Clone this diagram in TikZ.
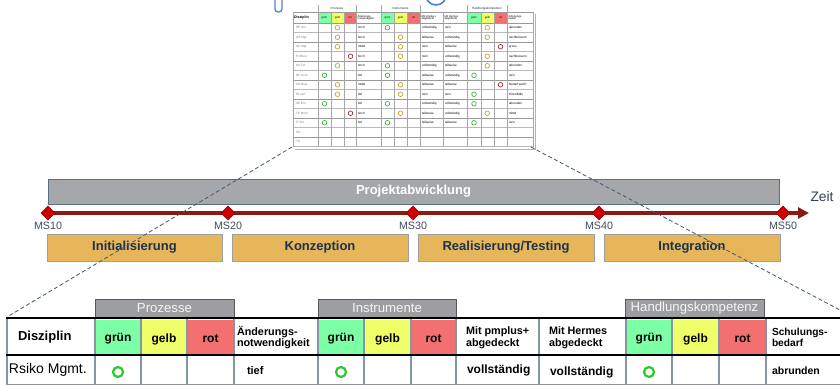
\documentclass[tikz,border=0pt]{standalone}
\usepackage{fontspec}
\setmainfont{Liberation Sans}
\usetikzlibrary{shapes.geometric,arrows.meta}
\definecolor{barfill}{HTML}{A5A7AA}
\definecolor{barline}{HTML}{5C6E7E}
\definecolor{tline}{HTML}{8A1A14}
\definecolor{msred}{HTML}{CC0000}
\definecolor{phasefill}{HTML}{E8B65A}
\definecolor{navy}{HTML}{1B3350}
\definecolor{msgray}{HTML}{3E4E60}
\definecolor{cgreen}{HTML}{7DFFA6}
\definecolor{cyellow}{HTML}{EEFF6A}
\definecolor{cred}{HTML}{F27070}
\definecolor{tabfill}{HTML}{9C9EA2}
\definecolor{vline}{HTML}{8495A5}
\definecolor{dashc}{HTML}{3F5872}
\definecolor{ring}{HTML}{2DC72D}
\definecolor{lv1}{HTML}{3DB83D}
\definecolor{lv2}{HTML}{C9A23A}
\definecolor{lv3}{HTML}{A03030}
\definecolor{iconblue}{HTML}{4A80D8}
\newcommand\myfs[1]{\fontsize{#1}{#1}\selectfont}
\tikzset{
  phase/.style={draw=gray!75, fill=phasefill, line width=0.8pt, minimum height=27pt, anchor=north west, text=navy, font=\bfseries\myfs{13}},
  msdia/.style={diamond, fill=msred, draw=msred!70!black, line width=0.4pt, minimum width=14pt, minimum height=14pt},
  mslabel/.style={text=msgray, font=\myfs{10.7}},
  tabbox/.style={fill=tabfill, draw=gray!70!black, line width=0.6pt, minimum height=18pt, anchor=north west, text=white!92!gray, font=\myfs{13.2}},
  hdr/.style={font=\bfseries\myfs{12}},
  hdrtwo/.style={font=\bfseries\myfs{10.8}, align=left, anchor=west},
  okring/.style={draw=ring, line width=2.2pt},
  tiny/.style={font=\myfs{3.1}, anchor=west},
  thmark/.style={line width=0.7pt, circle, minimum size=4.6pt},
  dashln/.style={draw=dashc, line width=0.8pt, dash pattern=on 4pt off 2.5pt}
}
\begin{document}
\begin{tikzpicture}[x=1pt,y=-1pt, every node/.style={inner sep=0pt, outer sep=0pt}]
\useasboundingbox (0,0) rectangle (840,385);
\clip (0,0) rectangle (840,385);
\fill[white] (0,0) rectangle (840,385);

% cut-off shapes at the top edge
\draw[iconblue, line width=1.3pt, rounded corners=3pt] (275,-10) rectangle (282,12);
\draw[iconblue, line width=1.6pt] (436,-7) ellipse (11 and 12);

% ---------- thumbnail table ----------
\fill[cgreen]  (318,12) rectangle (331,23);
\fill[cyellow] (331,12) rectangle (344,23);
\fill[cred]    (344,12) rectangle (356,23);
\fill[cgreen]  (381,12) rectangle (394,23);
\fill[cyellow] (394,12) rectangle (407,23);
\fill[cred]    (407,12) rectangle (420,23);
\fill[cgreen]  (467,12) rectangle (481,23);
\fill[cyellow] (481,12) rectangle (494,23);
\fill[cred]    (494,12) rectangle (507,23);
\foreach \i in {0,...,13} \draw[gray!55, line width=0.35pt] (293,{23+9.5*\i}) -- (533,{23+9.5*\i});
\foreach \i in {0,2,...,12} \draw[gray!80, line width=0.5pt] (293,{23+9.5*\i}) -- (533,{23+9.5*\i});
\draw[gray!80, line width=0.5pt] (293,12) -- (533,12);
\foreach \x in {293,318,331,344,356,381,394,407,420,443,467,481,494,507,533}
  \draw[gray!70, line width=0.45pt] (\x,12) -- (\x,147);
\foreach \x in {318,356,381,420,467,507}
  \draw[gray!70, line width=0.45pt] (\x,5) -- (\x,12);
\draw[gray!60, line width=1pt] (535,14) -- (535,149) -- (295,149);
\node[tiny, anchor=center, text=navy] (tgP) at (337,8.5) {Prozesse};
\node[tiny, anchor=center, text=navy] (tgI) at (400.5,8.5) {Instrumente};
\node[tiny, anchor=center, text=navy] (tgH) at (487,8.5) {Handlungskompetenz};
\node[tiny, font=\bfseries\myfs{3.6}] (tdis) at (294,17.5) {Disziplin};
\foreach \x/\t in {324.5/grün,337.5/gelb,350/rot,387.5/grün,400.5/gelb,413.5/rot,474/grün,487.5/gelb,500.5/rot}
  \node[font=\myfs{2.8}] at (\x,17.5) {\t};
\node[tiny, font=\myfs{2.7}, align=left] (tand) at (357.5,17.5) {Änderungs-\\[-0.6pt]notwendigkeit};
\node[tiny, font=\myfs{2.7}, align=left] (tpm) at (421.5,17.5) {Mit pmplus+\\[-0.6pt]abgedeckt};
\node[tiny, font=\myfs{2.7}, align=left] (ther) at (444.5,17.5) {Mit Hermes\\[-0.6pt]abgedeckt};
\node[tiny, font=\myfs{2.7}, align=left] (tsch) at (508.5,17.5) {Schulungs-\\[-0.6pt]bedarf};
\foreach \i/\p/\q/\h/\a/\b/\c/\d/\n in {
  0/2/1/2/hoch/vollständig/nein/abrunden/RE Anf,
  1/2/2/2/hoch/teilweise/vollständig/nachbessern/QS Mgt,
  2/2/2/3/mittel/nein/teilweise/gross/SC Mgt,
  3/3/2/2/hoch/nein/vollständig/nachbessern/PJ Best,
  4/2/1/2/hoch/vollständig/teilweise/abrunden/KS Tst,
  5/1/1/1/tief/teilweise/vollständig/nein/BC Kont,
  6/2/2/3/mittel/teilweise/teilweise/Bedarf wird?/KO Bew,
  7/2/2/1/tief/nein/nein/Einzelfälle/RI Verf,
  8/1/1/1/tief/vollständig/vollständig/abrunden/SE Ent,
  9/3/2/2/hoch/teilweise/vollständig/mittel/TC Mont,
  10/1/1/1/tief/teilweise/teilweise/nein/IT Ent}{
  \pgfmathsetmacro\yy{23+9.5*\i+4.75}
  \node[tiny, text=gray] (tn\i) at (296,\yy) {\n};
  \node[tiny] at (358,\yy) {\a};
  \node[tiny] at (422,\yy) {\b};
  \node[tiny] at (445,\yy) {\c};
  \node[tiny] at (509,\yy) {\d};
  \node[draw=lv\p, thmark] at ({324.5+13*(\p-1)},\yy) {};
  \node[draw=lv\q, thmark] at ({387.5+13*(\q-1)},\yy) {};
  \node[draw=lv\h, thmark] at ({474+13.25*(\h-1)},\yy) {};
}
\node[tiny, text=gray] (tn11) at (296,132.25) {SD ...};
\node[tiny, text=gray] (tn12) at (296,141.75) {TS};
\coordinate (thbl) at (292,147);
\coordinate (thbr) at (531,147);

% ---------- project bar & timeline ----------
\node[draw=barline, fill=barfill, line width=1pt, minimum width=731pt, minimum height=25pt,
      anchor=north west, text=white, font=\bfseries\myfs{13}] (bar) at (48,179) {Projektabwicklung};
\coordinate (tstart) at (48,213);
\coordinate (tend) at (809,213);
\draw[tline, line width=3.5pt, -{Triangle[length=11pt,width=11pt]}] (tstart) -- (tend);
\node[font=\myfs{13.8}, text=msgray!85!black] (zeit) at (822,197) {Zeit};
\foreach \x/\n in {48/10,228/20,413/30,599/40,783/50}{
  \node[msdia] (ms\n) at (\x,213) {};
  \node[mslabel] (lab\n) at (\x,225.5) {MS\n};
}
\node[phase, minimum width=175pt] (ph1) at (47,234) {Initialisierung};
\node[phase, minimum width=176pt] (ph2) at (232,234) {Konzeption};
\node[phase, minimum width=176pt] (ph3) at (418,234) {Realisierung/Testing};
\node[phase, minimum width=176pt] (ph4) at (604,234) {Integration};

% ---------- detail table ----------
\node[tabbox, minimum width=139pt] (tabP) at (95,299) {Prozesse};
\node[tabbox, minimum width=138pt] (tabI) at (318,299) {Instrumente};
\node[tabbox, minimum width=139pt] (tabH) at (625,299) {Handlungskompetenz};
\fill[cgreen]  (95,320) rectangle (141,354);
\fill[cyellow] (141,320) rectangle (187,354);
\fill[cred]    (187,320) rectangle (234,354);
\fill[cgreen]  (318,320) rectangle (364,354);
\fill[cyellow] (364,320) rectangle (411,354);
\fill[cred]    (411,320) rectangle (456,354);
\fill[cgreen]  (626,320) rectangle (672,354);
\fill[cyellow] (672,320) rectangle (719,354);
\fill[cred]    (719,320) rectangle (766,354);
\foreach \x in {7,95,141,187,234,318,364,411,456,539,626,672,719,766}
  \draw[vline, line width=1.1pt] (\x,318) -- (\x,385);
\draw[black, line width=2.6pt] (6,318) -- (840,318);
\draw[black, line width=2.6pt] (6,355) -- (840,355);
\draw[vline, line width=1pt] (6,384.5) -- (840,384.5);
\coordinate (dtl) at (7,317);
\coordinate (dtr) at (840,310);

\node[font=\bfseries\myfs{13}, anchor=west] (hdis) at (18,337) {Disziplin};
\foreach \x/\t/\k in {118/grün/a,164/gelb/b,210.5/rot/c,341/grün/d,387.5/gelb/e,433.5/rot/f,649/grün/g,695.5/gelb/h,742.5/rot/i}
  \node[hdr] (h\k) at (\x,339) {\t};
\node[hdrtwo] (hand) at (237,337.5) {Änderungs-\\[1pt]notwendigkeit};
\node[hdrtwo] (hpm) at (466,337.5) {Mit pmplus+\\[1pt]abgedeckt};
\node[hdrtwo] (hher) at (549,337.5) {Mit Hermes\\[1pt]abgedeckt};
\node[hdrtwo, font=\bfseries\myfs{10.2}] (hsch) at (772,337.5) {Schulungs-\\[1pt]bedarf};

\node[font=\myfs{14}, anchor=west] (drisk) at (9,370) {Rsiko Mgmt.};
\draw[okring] (118,372) circle (5);
\draw[okring] (341,372) circle (5);
\draw[okring] (649,372) circle (5);
\node[font=\bfseries\myfs{11}, anchor=west] (dtief) at (247,371) {tief};
\node[font=\bfseries\myfs{12}, anchor=west] (dvoll1) at (467,370) {vollständig};
\node[font=\bfseries\myfs{12}, anchor=west] (dvoll2) at (550,372) {vollständig};
\node[font=\bfseries\myfs{10.5}, anchor=west] (dabr) at (772,371) {abrunden};

% ---------- zoom lines ----------
\draw[dashln] (thbl) -- (dtl);
\draw[dashln] (thbr) -- (dtr);
\end{tikzpicture}
\end{document}
